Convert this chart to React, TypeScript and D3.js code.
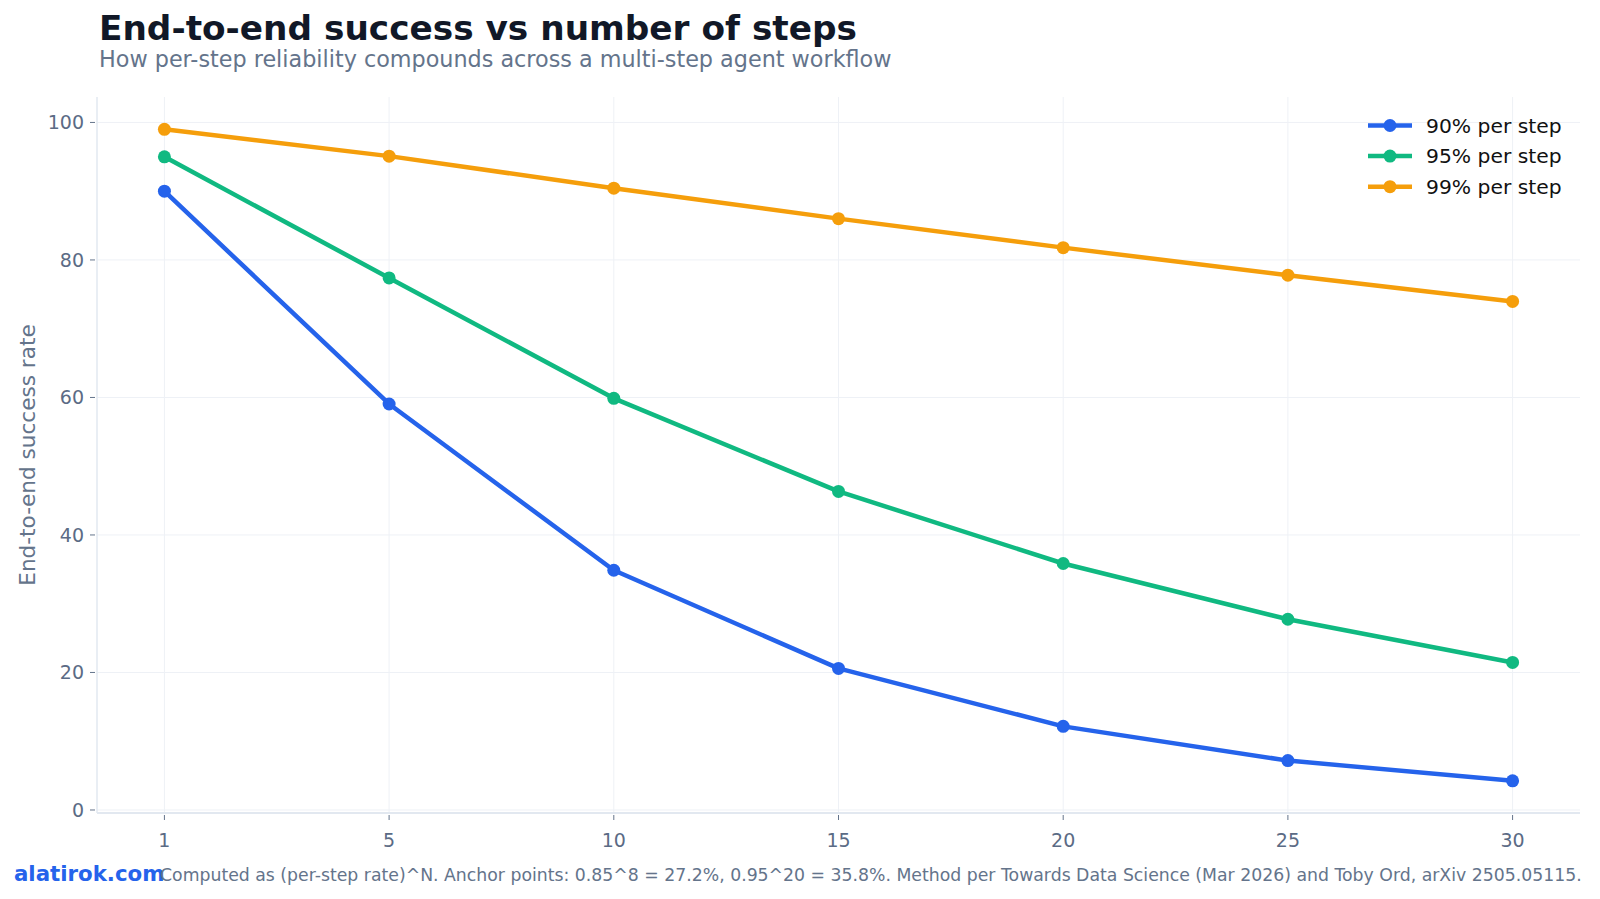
import * as d3 from 'd3'

const steps = [1, 5, 10, 15, 20, 25, 30]
const rate90 = [90, 59.05, 34.87, 20.59, 12.16, 7.18, 4.24]
const rate95 = [95, 77.38, 59.87, 46.33, 35.85, 27.74, 21.46]
const rate99 = [99, 95.1, 90.44, 86.01, 81.79, 77.78, 73.97]
const seriesNames = ['90% per step', '95% per step', '99% per step']
const seriesColors = ['#2563eb', '#10b981', '#f59e0b']
const yTicks = [0, 20, 40, 60, 80, 100]

const W = 1600
const H = 899
const plot = { left: 97, right: 1580, top: 97, bottom: 813 }
const FONT = 'DejaVu Sans, sans-serif'

export default function App() {
  // steps are categories: evenly spaced regardless of value
  const x = d3.scalePoint<number>().domain(steps).range([plot.left, plot.right]).padding(0.3)
  const y = d3.scaleLinear().domain([-0.44, 103.7]).range([plot.bottom, plot.top])
  const line = d3.line<number>()
    .x((_, i) => x(steps[i]) ?? 0)
    .y(d => y(d))
  const series = [rate90, rate95, rate99]

  return (
    <svg width={W} height={H} style={{ position: 'absolute', left: 0, top: 0, background: '#fff' }}
      fontFamily={FONT}>
      <rect width={W} height={H} fill="#fff" />
      <text x={99} y={40} fontSize={34.3} fontWeight="bold" fill="#111827">
        End-to-end success vs number of steps
      </text>
      <text x={99} y={67} fontSize={22.3} fill="#64748b">
        How per-step reliability compounds across a multi-step agent workflow
      </text>

      {/* grid */}
      {steps.map(s => (
        <line key={'gx' + s} x1={x(s)} x2={x(s)} y1={plot.top} y2={plot.bottom} stroke="#eef1f6" strokeWidth={1} />
      ))}
      {yTicks.map(t => (
        <line key={'gy' + t} x1={plot.left} x2={plot.right} y1={y(t)} y2={y(t)} stroke="#eef1f6" strokeWidth={1} />
      ))}
      {/* axis lines */}
      <line x1={plot.left} x2={plot.left} y1={plot.top} y2={plot.bottom} stroke="#e2e8f0" strokeWidth={1.5} />
      <line x1={plot.left} x2={plot.right} y1={plot.bottom} y2={plot.bottom} stroke="#e2e8f0" strokeWidth={2} />

      {/* y ticks */}
      {yTicks.map(t => (
        <g key={'yt' + t}>
          <line x1={plot.left - 7} x2={plot.left - 2} y1={y(t)} y2={y(t)} stroke="#64748b" />
          <text x={plot.left - 13} y={y(t)} dy="0.35em" textAnchor="end" fontSize={19} fill="#5b6b85">{t}</text>
        </g>
      ))}
      {/* x ticks */}
      {steps.map(s => (
        <g key={'xt' + s}>
          <line x1={x(s)} x2={x(s)} y1={plot.bottom + 2} y2={plot.bottom + 7} stroke="#64748b" />
          <text x={x(s)} y={plot.bottom + 27} dy="0.35em" textAnchor="middle" fontSize={19} fill="#5b6b85">{s}</text>
        </g>
      ))}
      <text transform={`translate(27,${(plot.top + plot.bottom) / 2}) rotate(-90)`} textAnchor="middle"
        dy="0.35em" fontSize={21.6} fill="#64748b">End-to-end success rate</text>

      {/* series */}
      {series.map((vals, si) => (
        <g key={'s' + si}>
          <path d={line(vals) || ''} fill="none" stroke={seriesColors[si]} strokeWidth={4.5} strokeLinejoin="round" />
          {vals.map((v, i) => (
            <circle key={i} cx={x(steps[i])} cy={y(v)} r={6.5} fill={seriesColors[si]} />
          ))}
        </g>
      ))}

      {/* legend */}
      {seriesNames.map((n, i) => {
        const ly = 125.5 + i * 30.6
        return (
          <g key={'lg' + i}>
            <line x1={1368} x2={1412} y1={ly} y2={ly} stroke={seriesColors[i]} strokeWidth={4.5} />
            <circle cx={1390} cy={ly} r={6.5} fill={seriesColors[i]} />
            <text x={1426} y={ly} dy="0.35em" fontSize={20.3} fill="#111">{n}</text>
          </g>
        )
      })}

      {/* footer */}
      <text x={14} y={881} fontSize={21.3} fontWeight="bold" fill="#2563eb">alatirok.com</text>
      <text x={160} y={881} fontSize={17.3} fill="#64748b">
        Computed as (per-step rate)^N. Anchor points: 0.85^8 = 27.2%, 0.95^20 = 35.8%. Method per Towards Data Science (Mar 2026) and Toby Ord, arXiv 2505.05115.
      </text>
    </svg>
  )
}
